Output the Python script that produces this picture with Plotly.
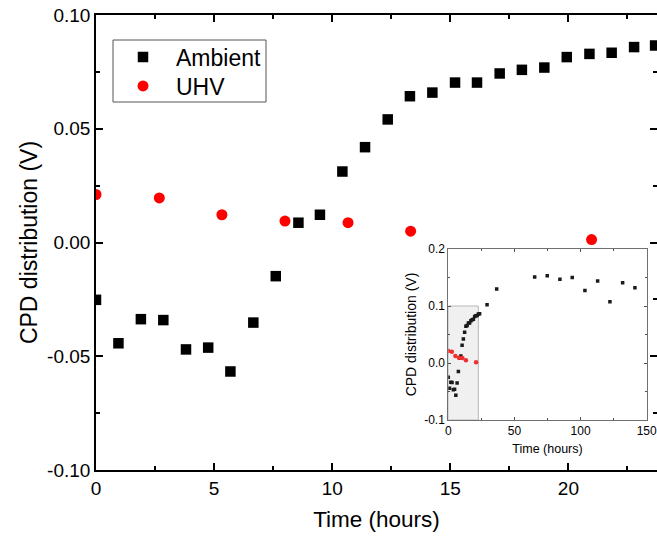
import plotly.graph_objects as go

# ---- data ----
amb_t = [0.0, 0.95, 1.9, 2.85, 3.81, 4.75, 5.69, 6.66, 7.61, 8.57, 9.48, 10.43,
         11.39, 12.35, 13.29, 14.24, 15.2, 16.13, 17.09, 18.03, 18.98, 19.93,
         20.89, 21.83, 22.78, 23.67]
amb_v = [-0.0252, -0.0443, -0.0337, -0.0341, -0.047, -0.0462, -0.0567, -0.0352,
         -0.0148, 0.0087, 0.0122, 0.0312, 0.0419, 0.0541, 0.0643, 0.0659, 0.0703,
         0.0703, 0.0743, 0.0759, 0.0769, 0.0815, 0.0829, 0.0834, 0.0859, 0.0866]

uhv_t = [0.0, 2.68, 5.33, 8.0, 10.67, 13.32, 20.98]
uhv_v = [0.0211, 0.0196, 0.0122, 0.0094, 0.0087, 0.005, 0.0013]

# long-term ambient values shown only in the inset
amb_long_t = [29.3, 36.6, 65.3, 74.8, 84.4, 93.7, 103.3, 112.9, 122.2, 131.8, 141.1]
amb_long_v = [0.102, 0.130, 0.151, 0.153, 0.147, 0.150, 0.127, 0.144, 0.1075, 0.141, 0.132]

main_xticks = [0, 5, 10, 15, 20]
main_yticks = [-0.10, -0.05, 0.00, 0.05, 0.10]
main_yticktext = ["-0.10", "-0.05", "0.00", "0.05", "0.10"]
inset_xticks = [0, 50, 100, 150]
inset_yticks = [-0.1, 0.0, 0.1, 0.2]
inset_yticktext = ["-0.1", "0.0", "0.1", "0.2"]
highlight_x = [0, 22.7]
highlight_y = [-0.1, 0.1]

FONT = "Liberation Sans, Arial, sans-serif"

W, H = 657, 542
ML, MR, MT, MB = 96, 0, 15, 72
PW, PH = W - ML - MR, H - MT - MB


def px_x(p):
    return (p - ML) / PW


def px_y(p):
    return (H - MB - p) / PH


fig = go.Figure()

fig.add_trace(go.Scatter(x=amb_t, y=amb_v, mode="markers", name="Ambient",
                         marker=dict(symbol="square", size=10.5, color="black"),
                         xaxis="x", yaxis="y", legend="legend"))
fig.add_trace(go.Scatter(x=uhv_t, y=uhv_v, mode="markers", name="UHV",
                         marker=dict(symbol="circle", size=11, color="#ff0000"),
                         xaxis="x", yaxis="y", legend="legend2"))

# inset
fig.add_trace(go.Scatter(x=amb_t + amb_long_t, y=amb_v + amb_long_v, mode="markers",
                         showlegend=False,
                         marker=dict(symbol="square", size=3.5, color="#1a1a1a"),
                         xaxis="x2", yaxis="y2"))
fig.add_trace(go.Scatter(x=uhv_t, y=uhv_v, mode="markers", showlegend=False,
                         marker=dict(symbol="circle", size=4.5, color="#f03030"),
                         xaxis="x2", yaxis="y2"))

fig.add_shape(type="rect", xref="x2", yref="y2",
              x0=highlight_x[0], x1=highlight_x[1], y0=highlight_y[0], y1=highlight_y[1],
              fillcolor="#f0f0f0", line=dict(color="#b8b8b8", width=1), layer="below")

# legend frame
fig.add_shape(type="rect", xref="paper", yref="paper",
              x0=px_x(113), x1=px_x(266), y0=px_y(102), y1=px_y(40),
              line=dict(color="#555555", width=1), fillcolor="rgba(0,0,0,0)")

main_axis = dict(showline=True, linecolor="black", linewidth=1.6, mirror="ticks",
                 ticks="inside", ticklen=7, tickwidth=1.5, tickcolor="black",
                 showgrid=False, zeroline=False, automargin=False,
                 tickfont=dict(family=FONT, size=19, color="black"))

inset_axis = dict(showline=True, linecolor="#707070", linewidth=1, mirror="ticks",
                  ticks="inside", ticklen=3, tickcolor="#505050",
                  showgrid=False, zeroline=False, automargin=False,
                  ticklabeloverflow="allow",
                  tickfont=dict(family=FONT, size=12))

legend_common = dict(xanchor="left", yanchor="middle", borderwidth=0,
                     bgcolor="rgba(0,0,0,0)", font=dict(family=FONT, size=23),
                     itemwidth=56)

fig.update_layout(
    width=W, height=H,
    margin=dict(l=ML, r=MR, t=MT, b=MB, autoexpand=False),
    paper_bgcolor="white", plot_bgcolor="white",
    font=dict(family=FONT, color="black"),
    xaxis=dict(range=[0, 23.75], tickvals=main_xticks, domain=[0, 1],
               minor=dict(dtick=2.5, ticks="inside", ticklen=4, tickwidth=1.5, tickcolor="black"),
               title=dict(text="Time (hours)", font=dict(family=FONT, size=22.5), standoff=14),
               **main_axis),
    yaxis=dict(range=[-0.10, 0.10], tickvals=main_yticks, ticktext=main_yticktext, domain=[0, 1],
               minor=dict(dtick=0.025, ticks="inside", ticklen=4, tickwidth=1.5, tickcolor="black"),
               title=dict(text="CPD distribution (V)", font=dict(family=FONT, size=23), standoff=3),
               **main_axis),
    xaxis2=dict(domain=[px_x(448.3), px_x(646.7)], anchor="y2", range=[0, 150], tickvals=inset_xticks,
                minor=dict(dtick=25, ticks="inside", ticklen=2, tickcolor="#505050"),
                title=dict(text="Time (hours)", font=dict(family=FONT, size=12.5), standoff=6),
                **inset_axis),
    yaxis2=dict(domain=[px_y(420), px_y(249)], anchor="x2", range=[-0.1, 0.2],
                tickvals=inset_yticks, ticktext=inset_yticktext,
                minor=dict(dtick=0.05, ticks="inside", ticklen=2, tickcolor="#505050"),
                title=dict(text="CPD distribution (V)", font=dict(family=FONT, size=14), standoff=4),
                **inset_axis),
    legend=dict(x=px_x(110), y=px_y(57), **legend_common),
    legend2=dict(x=px_x(110), y=px_y(86), **legend_common),
    showlegend=True,
)

fig.write_html("out.html")
